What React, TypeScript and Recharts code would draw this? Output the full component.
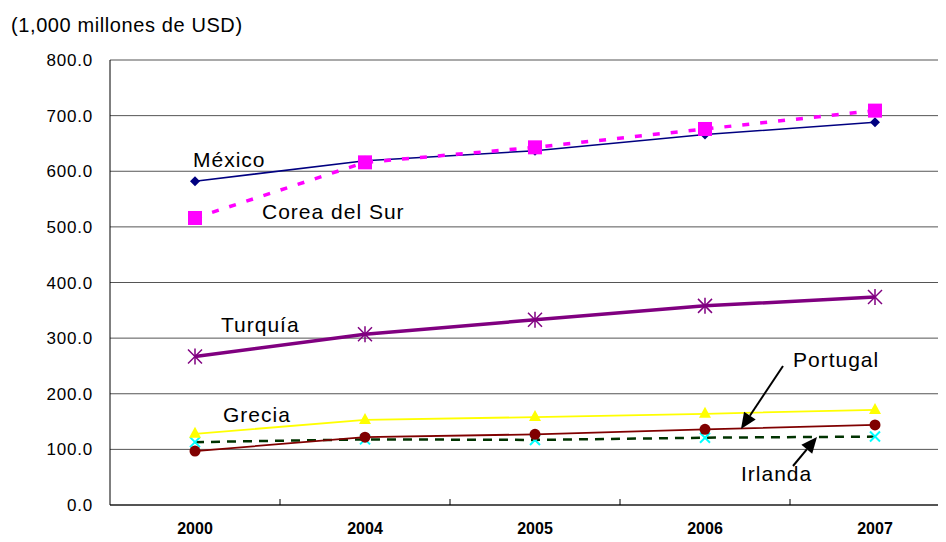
import { LineChart, Line, XAxis, YAxis, CartesianGrid } from "recharts";

const years = ["2000", "2004", "2005", "2006", "2007"];
const mexico = [582, 619, 637, 666, 688];
const coreaDelSur = [516, 616, 643, 676, 709];
const turquia = [267, 307, 333, 358, 374];
const grecia = [128, 153, 158, 164, 171];
const portugal = [97, 122, 127, 136, 144];
const irlanda = [113, 118, 117, 121, 123];
const yTicks = [0, 100, 200, 300, 400, 500, 600, 700, 800];

const rows = years.map((year, i) => ({
  year,
  mexico: mexico[i],
  corea: coreaDelSur[i],
  turquia: turquia[i],
  grecia: grecia[i],
  portugal: portugal[i],
  irlanda: irlanda[i],
}));

const FONT = '"Liberation Sans", Arial, sans-serif';
const HALF_BAND = 85;

const Diamond = (p: any) => (
  <polygon
    key={`d-${p.index}`}
    points={`${p.cx},${p.cy - 5} ${p.cx + 5},${p.cy} ${p.cx},${p.cy + 5} ${p.cx - 5},${p.cy}`}
    fill="#000080"
  />
);

const Square = (p: any) => (
  <rect key={`s-${p.index}`} x={p.cx - 7} y={p.cy - 7} width={14} height={14} fill="#FF00FF" />
);

const Star = (p: any) => (
  <g key={`st-${p.index}`} stroke="#800080" strokeWidth={1.5}>
    <line x1={p.cx} y1={p.cy - 8} x2={p.cx} y2={p.cy + 8} />
    <line x1={p.cx - 7} y1={p.cy - 7} x2={p.cx + 7} y2={p.cy + 7} />
    <line x1={p.cx - 7} y1={p.cy + 7} x2={p.cx + 7} y2={p.cy - 7} />
  </g>
);

const Triangle = (p: any) => (
  <polygon
    key={`t-${p.index}`}
    points={`${p.cx},${p.cy - 7} ${p.cx + 6},${p.cy + 4} ${p.cx - 6},${p.cy + 4}`}
    fill="#FFFF00"
  />
);

const Circle = (p: any) => <circle key={`c-${p.index}`} cx={p.cx} cy={p.cy} r={5.5} fill="#800000" />;

const Cross = (p: any) => (
  <g key={`x-${p.index}`} stroke="#00FFFF" strokeWidth={2}>
    <line x1={p.cx - 5} y1={p.cy - 5} x2={p.cx + 5} y2={p.cy + 5} />
    <line x1={p.cx - 5} y1={p.cy + 5} x2={p.cx + 5} y2={p.cy - 5} />
  </g>
);

// year label plus the boundary tick between this category and the next
const YearTick = (p: any) => {
  const { x, payload, index } = p;
  const axisY = 505;
  return (
    <g>
      {index < years.length - 1 && (
        <line x1={x + HALF_BAND} y1={axisY} x2={x + HALF_BAND} y2={axisY - 6} stroke="#000" />
      )}
      <text x={x} y={axisY + 25} textAnchor="middle" dominantBaseline="middle" fontFamily={FONT} fontSize={16} fontWeight="bold" fill="#000">
        {payload.value}
      </text>
    </g>
  );
};

function Arrow({ x1, y1, x2, y2 }: { x1: number; y1: number; x2: number; y2: number }) {
  const a = Math.atan2(y2 - y1, x2 - x1);
  const len = 16;
  const w = 7;
  const bx = x2 - len * Math.cos(a);
  const by = y2 - len * Math.sin(a);
  const px = -Math.sin(a) * w;
  const py = Math.cos(a) * w;
  return (
    <g>
      <line x1={x1} y1={y1} x2={bx} y2={by} stroke="#000" strokeWidth={2} />
      <polygon points={`${x2},${y2} ${bx + px},${by + py} ${bx - px},${by - py}`} fill="#000" />
    </g>
  );
}

const labelStyle = { fontFamily: FONT, fontSize: 21, letterSpacing: 1, fill: "#000" };

export default function App() {
  return (
    <div style={{ position: "relative", width: 946, height: 542, margin: -8, overflow: "hidden", background: "#fff" }}>
      <LineChart width={960} height={542} data={rows} margin={{ top: 60, right: 0, bottom: 0, left: 0 }}>
        <CartesianGrid vertical={false} stroke="#555" />
        <XAxis
          dataKey="year"
          padding={{ left: HALF_BAND, right: HALF_BAND }}
          height={37}
          stroke="#000"
          tickLine={false}
          tickSize={0}
          tick={<YearTick />}
          interval={0}
        />
        <YAxis
          width={110}
          domain={[0, 800]}
          ticks={yTicks}
          stroke="#000"
          tickLine={false}
          tickSize={0}
          tickMargin={17}
          tickFormatter={(v: number) => v.toFixed(1)}
          tick={{ fill: "#000", fontSize: 17, fontFamily: FONT, letterSpacing: 0.8 }}
        />
        <Line dataKey="irlanda" stroke="#003300" strokeWidth={2.5} strokeDasharray="9 7" dot={Cross} isAnimationActive={false} />
        <Line dataKey="portugal" stroke="#800000" strokeWidth={1.8} dot={Circle} isAnimationActive={false} />
        <Line dataKey="grecia" stroke="#FFFF00" strokeWidth={1.8} dot={Triangle} isAnimationActive={false} />
        <Line dataKey="turquia" stroke="#800080" strokeWidth={3.5} dot={Star} isAnimationActive={false} />
        <Line dataKey="mexico" stroke="#000080" strokeWidth={1.5} dot={Diamond} isAnimationActive={false} />
        <Line dataKey="corea" stroke="#FF00FF" strokeWidth={3.5} strokeDasharray="7 11" dot={Square} isAnimationActive={false} />
      </LineChart>
      <svg width={946} height={542} style={{ position: "absolute", left: 0, top: 0, pointerEvents: "none" }}>
        <text x={11} y={32} fontFamily={FONT} fontSize={20} letterSpacing={0.6} fill="#000">
          (1,000 millones de USD)
        </text>
        <text x={193} y={167} {...labelStyle}>México</text>
        <text x={262} y={219} {...labelStyle}>Corea del Sur</text>
        <text x={221} y={332} {...labelStyle}>Turquía</text>
        <text x={223} y={422} {...labelStyle}>Grecia</text>
        <text x={793} y={367} {...labelStyle}>Portugal</text>
        <text x={741} y={481} {...labelStyle}>Irlanda</text>
        <Arrow x1={783} y1={366} x2={741} y2={429} />
        <Arrow x1={793} y1={466} x2={817} y2={437} />
      </svg>
    </div>
  );
}
